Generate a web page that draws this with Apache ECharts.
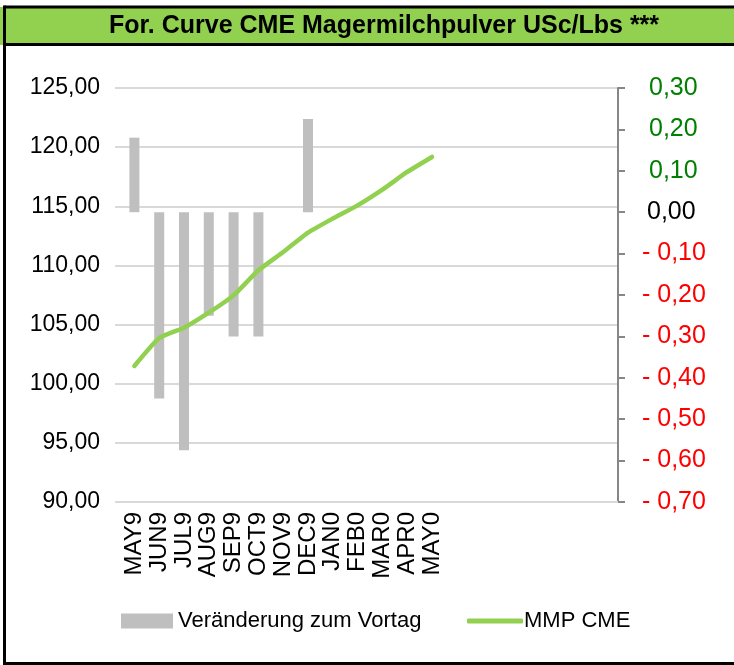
<!DOCTYPE html>
<html>
<head>
<meta charset="utf-8">
<script src="https://cdn.jsdelivr.net/npm/echarts@6/dist/echarts.min.js"></script>
<style>
html,body{margin:0;padding:0;background:#fff;}
#c{width:734px;height:665px;}
</style>
</head>
<body>
<div id="c"></div>
<script>
const titleText = 'For. Curve CME Magermilchpulver USc/Lbs ***';
const categories = ['MAY9','JUN9','JUL9','AUG9','SEP9','OCT9','NOV9','DEC9','JAN0','FEB0','MAR0','APR0','MAY0'];
const blankSlots = ['','','','','','',''];
const changeValues = [0.18, -0.45, -0.575, -0.25, -0.30, -0.30, 0, 0.225, 0, 0, 0, 0, 0];
const priceValues = [101.50, 103.86, 104.74, 106.01, 107.47, 109.59, 111.13, 112.77, 113.96, 115.08, 116.41, 117.90, 119.17];
const leftTicks = {min: 90, max: 125, step: 5};
const rightTicks = {min: -0.7, max: 0.3, step: 0.1};
const seriesNames = ['Veränderung zum Vortag', 'MMP CME'];

const FONT = "'Liberation Sans', Arial, sans-serif";
const GREEN = '#92d050';

function fmtComma(v){ return v.toFixed(2).replace('.', ','); }

const chart = echarts.init(document.getElementById('c'), null, {renderer:'canvas'});
chart.setOption({
  animation: false,
  backgroundColor: '#fff',
  graphic: [
    {type:'rect', shape:{x:0, y:7, width:740, height:38}, style:{fill:GREEN}, z:0},
    {type:'line', shape:{x1:4.5, y1:7, x2:740, y2:7}, style:{stroke:'#000', lineWidth:3}, z:1},
    {type:'line', shape:{x1:4.5, y1:44.5, x2:740, y2:44.5}, style:{stroke:'#000', lineWidth:3}, z:1},
    {type:'line', shape:{x1:4.5, y1:5.5, x2:4.5, y2:665}, style:{stroke:'#000', lineWidth:3}, z:1},
    {type:'line', shape:{x1:3, y1:663.5, x2:740, y2:663.5}, style:{stroke:'#000', lineWidth:3}, z:1},
    {type:'text', x:384, y:26, style:{text:titleText, font:"bold 25px " + FONT, fill:'#000', align:'center', verticalAlign:'middle'}, z:2}
  ],
  legend: [
    {left:116, top:605, itemWidth:52, itemHeight:15, itemGap:0, icon:'rect',
     data:[seriesNames[0]], textStyle:{fontFamily:FONT, fontSize:22, color:'#000'}},
    {left:462, top:605, itemWidth:56, itemHeight:5, itemGap:0,
     data:[{name:seriesNames[1], icon:'roundRect', itemStyle:{color:GREEN}}],
     textStyle:{fontFamily:FONT, fontSize:22, color:'#000', padding:[0,0,0,-4]}}
  ],
  grid: {left:122, right:116, top:88, bottom:163, containLabel:false},
  xAxis: {
    type:'category',
    data: categories.concat(blankSlots),
    boundaryGap:true,
    axisLine:{show:true, onZero:false, lineStyle:{color:'#d9d9d9', width:2}},
    axisTick:{show:false},
    axisLabel:{rotate:90, interval:0, margin:10, fontFamily:FONT, fontSize:24, color:'#000'}
  },
  yAxis: [
    {
      type:'value', min:leftTicks.min, max:leftTicks.max, interval:leftTicks.step,
      position:'left',
      axisLine:{show:false},
      axisTick:{show:true, length:7, lineStyle:{color:'#d9d9d9', width:2}},
      splitLine:{show:true, lineStyle:{color:'#d9d9d9', width:2}},
      axisLabel:{margin:22, fontFamily:FONT, fontSize:23, color:'#000', formatter: v => fmtComma(v)}
    },
    {
      type:'value', min:rightTicks.min, max:rightTicks.max, interval:rightTicks.step,
      position:'right',
      axisLine:{show:true, lineStyle:{color:'#868686', width:2}},
      axisTick:{show:true, length:7, lineStyle:{color:'#868686', width:2}},
      splitLine:{show:false},
      axisLabel:{
        margin:24, fontFamily:FONT, fontSize:25, align:'left',
        formatter: function(v){
          const r = Math.round(v*100)/100;
          if (r > 0.0001) return '{p|' + fmtComma(r) + '}';
          if (r < -0.0001) return '{n|- ' + fmtComma(-r) + '}';
          return '{z|' + fmtComma(0) + '}';
        },
        rich:{
          p:{color:'#008000', fontFamily:FONT, fontSize:25, padding:[0,0,0,7]},
          n:{color:'#ff0000', fontFamily:FONT, fontSize:25},
          z:{color:'#000', fontFamily:FONT, fontSize:25, padding:[0,0,0,5]}
        }
      }
    }
  ],
  series: [
    {
      name: seriesNames[0], type:'bar', yAxisIndex:1, barWidth:10,
      itemStyle:{color:'#bfbfbf'},
      data: changeValues
    },
    {
      name: seriesNames[1], type:'line', yAxisIndex:0, smooth:0.15,
      showSymbol:false, symbol:'none',
      lineStyle:{color:GREEN, width:4.5, cap:'round'},
      itemStyle:{color:GREEN},
      data: priceValues, z:5
    }
  ]
});
</script>
</body>
</html>
